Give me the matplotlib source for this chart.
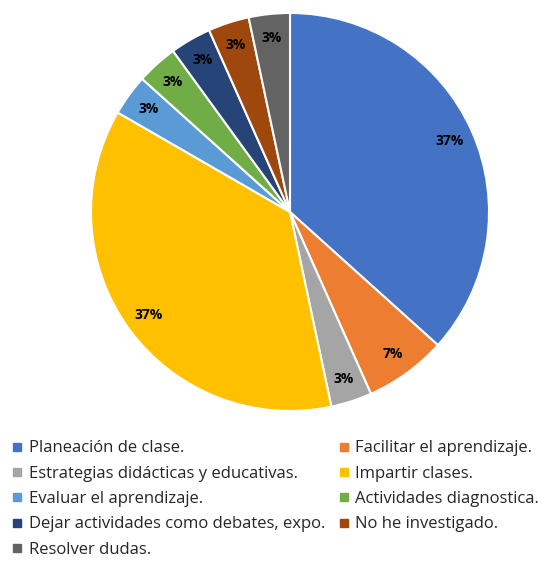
import matplotlib.pyplot as plt
from matplotlib.lines import Line2D

categorias = ['Planeación de clase.', 'Facilitar el aprendizaje.',
              'Estrategias didácticas y educativas.', 'Impartir clases.',
              'Evaluar el aprendizaje.', 'Actividades diagnostica.',
              'Dejar actividades como debates, expo.', 'No he investigado.',
              'Resolver dudas.']
valores = [11, 2, 1, 11, 1, 1, 1, 1, 1]
colores = ['#4472C4', '#ED7D31', '#A5A5A5', '#FFC000', '#5B9BD5',
           '#70AD47', '#264478', '#9E480E', '#636363']

plt.rcParams['font.family'] = ['Open Sans', 'DejaVu Sans']

fig = plt.figure(figsize=(5.44, 5.66), dpi=100)
r = 199 / 544
ax = fig.add_axes([290 / 544 - r, 1 - 212 / 566 - 199 / 566, 2 * r, 2 * 199 / 566])

wedges, texts, autotexts = ax.pie(
    valores, colors=colores, startangle=90, counterclock=False,
    autopct='%1.0f%%', pctdistance=0.88,
    wedgeprops=dict(edgecolor='white', linewidth=1.5),
    textprops=dict(fontsize=10, fontweight='bold', color='black'))
ax.set_xlim(-1, 1)
ax.set_ylim(-1, 1)
ax.set_aspect('equal')
ax.axis('off')

handles = [Line2D([], [], marker='s', linestyle='none', markersize=6,
                  color=c) for c in colores]
orden = [0, 2, 4, 6, 8, 1, 3, 5, 7]
fig.legend([handles[i] for i in orden], [categorias[i] for i in orden],
           ncol=2, loc='upper left', bbox_to_anchor=(8 / 544, 1 - 437 / 566),
           frameon=False, fontsize=12, handlelength=0.7, handletextpad=0.35,
           columnspacing=0.75, labelspacing=0.56, borderaxespad=0,
           borderpad=0.2, labelcolor='#262626')

fig.savefig('out.png', dpi=100)
